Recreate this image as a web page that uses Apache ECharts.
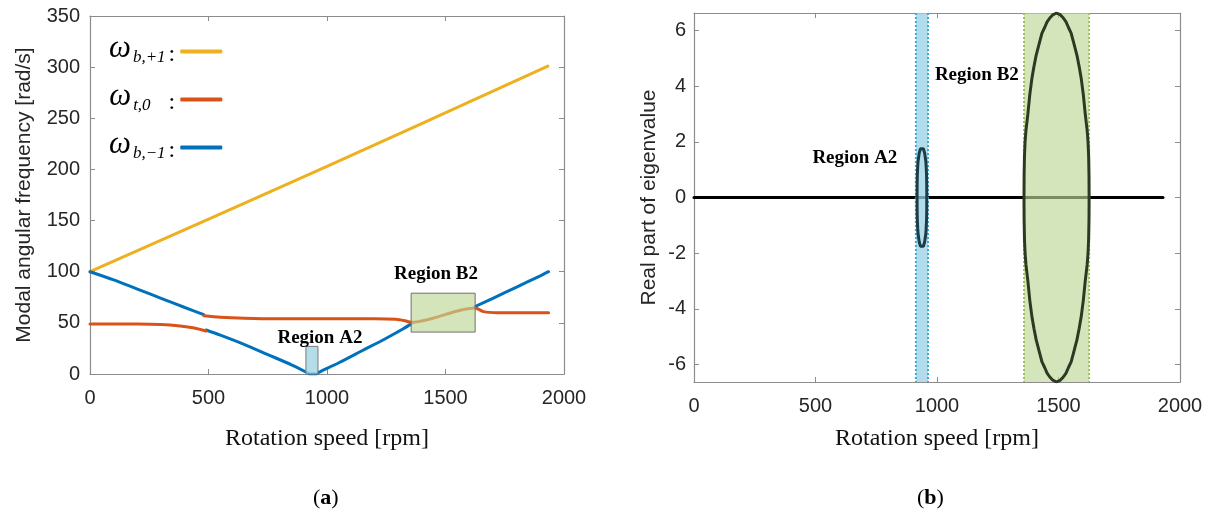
<!DOCTYPE html>
<html>
<head>
<meta charset="utf-8">
<script src="https://cdn.jsdelivr.net/npm/echarts@6/dist/echarts.min.js"></script>
<style>
html, body { margin: 0; background: #fff; }
#main { width: 1214px; height: 518px; }
</style>
</head>
<body>
<div id="main"></div>
<script>
var myChart = echarts.init(document.getElementById('main'));

// ---- (a) modal angular frequency [rad/s] vs rotation speed [rpm]
var yellowLine = [[0, 100], [1000, 203], [1932, 301]];
var blueSeg1 = [[0, 100], [100, 92], [200, 83], [300, 74], [400, 65], [480, 58]];
var blueSeg2 = [[490, 43], [550, 38], [650, 29], [750, 19], [850, 9], [915, 1.5], [925, 0],
    [955, 0], [965, 1.5], [1050, 11], [1150, 23], [1250, 35], [1320, 44], [1355, 49]];
var blueSeg3 = [[1625, 66], [1700, 74], [1800, 85], [1900, 96], [1935, 100]];
var orangeSeg1 = [[0, 49], [200, 49], [300, 48.5], [380, 47], [440, 45], [490, 42]];
var orangeSeg2 = [[480, 57], [550, 55.5], [650, 54.5], [800, 54], [1000, 54], [1200, 54],
    [1290, 53.5], [1330, 52], [1355, 50.5], [1625, 64.5], [1660, 61], [1720, 60], [1935, 60]];
// regions: [xFrom, xTo, yFrom, yTo]
var regionA2Left = [[911, 962, 0, 27]];
var regionB2Left = [[1355, 1625, 41, 79]];
var labelsLeft = [{name: 'Region A2', value: [970, 35]}, {name: 'Region B2', value: [1460, 98]}];

// ---- (b) real part of eigenvalue vs rotation speed [rpm]
var zeroLine = [[0, 0], [1930, 0]];
var regionA2Right = [[913, 963, -6.62, 6.62]];
var regionB2Right = [[1358, 1626, -6.62, 6.62]];
var loopA2 = [[918, 0], [918.3, 0.5], [919, 0.8], [920.5, 1.1], [922, 1.3], [927, 1.6], [932, 1.75],
    [938, 1.78], [944, 1.75], [949, 1.6], [954, 1.3], [955.5, 1.1], [957, 0.8], [957.7, 0.5],
    [958, 0], [957.7, -0.5], [957, -0.8], [955.5, -1.1], [954, -1.3], [949, -1.6], [944, -1.75],
    [938, -1.78], [932, -1.75], [927, -1.6], [922, -1.3], [920.5, -1.1], [919, -0.8],
    [918.3, -0.5], [918, 0]];
var loopB2 = [[1358, 0], [1358.5, 0.8], [1360, 1.5], [1362.5, 2.0], [1366, 2.4], [1374, 3.0],
    [1382, 3.7], [1391, 4.3], [1399, 4.7], [1408, 5.1], [1420, 5.5], [1432, 5.9], [1443, 6.1],
    [1453, 6.3], [1465, 6.45], [1476, 6.55], [1492, 6.62], [1508, 6.55], [1519, 6.45],
    [1531, 6.3], [1541, 6.1], [1552, 5.9], [1564, 5.5], [1576, 5.1], [1585, 4.7], [1593, 4.3],
    [1602, 3.7], [1610, 3.0], [1618, 2.4], [1621.5, 2.0], [1624, 1.5], [1625.5, 0.8], [1626, 0],
    [1625.5, -0.8], [1624, -1.5], [1621.5, -2.0], [1618, -2.4], [1610, -3.0], [1602, -3.7],
    [1593, -4.3], [1585, -4.7], [1576, -5.1], [1564, -5.5], [1552, -5.9], [1541, -6.1],
    [1531, -6.3], [1519, -6.45], [1508, -6.55], [1492, -6.62], [1476, -6.55], [1465, -6.45],
    [1453, -6.3], [1443, -6.1], [1432, -5.9], [1420, -5.5], [1408, -5.1], [1399, -4.7],
    [1391, -4.3], [1382, -3.7], [1374, -3.0], [1366, -2.4], [1362.5, -2.0], [1360, -1.5],
    [1358.5, -0.8], [1358, 0]];
var labelsRight = [{name: 'Region A2', value: [662, 1.4]}, {name: 'Region B2', value: [1164, 4.4]}];
var eigenTicks = [-6, -4, -2, 0, 2, 4, 6];

var nameY = 'ωb,+1', nameO = 'ωt,0', nameB = 'ωb,−1';
var legendText = {};
legendText[nameY] = '{w|ω}{s|b,+1}{c|:}';
legendText[nameO] = '{w|ω}{s0|t,0}{c|:}';
legendText[nameB] = '{w|ω}{s|b,−1}{c|:}';

var sans = 'Liberation Sans';
var serif = 'Liberation Serif';
var axisGray = '#8c8c8c';
var labelColor = '#262626';

function boxAxis(grid, pos, min, max, interval, showLabel, name, nameFont, nameGap) {
    var a = {
        type: 'value', gridIndex: grid, position: pos, min: min, max: max,
        axisLine: {show: true, onZero: false, lineStyle: {color: axisGray, width: 1.2}},
        axisTick: {show: true, inside: true, length: 5, lineStyle: {color: axisGray}},
        axisLabel: {
            show: showLabel, color: labelColor, fontFamily: sans, fontSize: 20, margin: 10,
            formatter: function (v) { return String(v); }
        },
        splitLine: {show: false}
    };
    if (interval) a.interval = interval;
    if (name) {
        a.name = name;
        a.nameLocation = 'middle';
        a.nameGap = nameGap;
        a.nameTextStyle = nameFont;
    }
    return a;
}

var xNameFont = {fontFamily: serif, fontSize: 24, color: '#111'};
var yNameFont = {fontFamily: sans, fontSize: 21, color: labelColor};

var xAxes = [
    boxAxis(0, 'bottom', 0, 2000, 500, true, 'Rotation speed [rpm]', xNameFont, 53),
    boxAxis(0, 'top', 0, 2000, 500, false),
    boxAxis(1, 'bottom', 0, 2000, 500, true, 'Rotation speed [rpm]', xNameFont, 45),
    boxAxis(1, 'top', 0, 2000, 500, false)
];
xAxes[0].axisLabel.margin = 14;
xAxes[2].axisLabel.margin = 14;

var yAxes = [
    boxAxis(0, 'left', 0, 350, 50, true, 'Modal angular frequency [rad/s]', yNameFont, 55),
    boxAxis(0, 'right', 0, 350, 50, false),
    boxAxis(1, 'left', -6.62, 6.62, null, true, 'Real part of eigenvalue', yNameFont, 34),
    boxAxis(1, 'right', -6.62, 6.62, null, false)
];
[2, 3].forEach(function (i) {
    yAxes[i].axisTick.customValues = eigenTicks;
    yAxes[i].axisLabel.customValues = eigenTicks;
});
yAxes[2].axisLabel.margin = 8;

function regionRender(fill, stroke, dotted) {
    return function (params, api) {
        var p0 = api.coord([api.value(0), api.value(3)]);
        var p1 = api.coord([api.value(1), api.value(2)]);
        var children = [{
            type: 'rect',
            shape: {x: p0[0], y: p0[1], width: p1[0] - p0[0], height: p1[1] - p0[1]},
            style: {fill: fill, stroke: dotted ? null : stroke, lineWidth: 1}
        }];
        if (dotted) {
            [p0[0], p1[0]].forEach(function (px) {
                children.push({
                    type: 'line',
                    shape: {x1: px, y1: p0[1], x2: px, y2: p1[1]},
                    style: {stroke: stroke, lineWidth: 2, lineDash: [2, 2]}
                });
            });
        }
        return {type: 'group', children: children};
    };
}

function lineSeries(name, data, color, xi, yi, width, z, smooth) {
    return {
        name: name, type: 'line', data: data, xAxisIndex: xi, yAxisIndex: yi,
        showSymbol: false, symbol: 'none', smooth: smooth === undefined ? 0.3 : smooth, z: z || 2,
        lineStyle: {color: color, width: width || 3, cap: 'round'},
        itemStyle: {color: color},
        animation: false
    };
}

function labelSeries(data, xi, yi) {
    return {
        type: 'scatter', data: data, xAxisIndex: xi, yAxisIndex: yi, symbolSize: 0, z: 6,
        itemStyle: {opacity: 1},
        label: {
            show: true, position: 'inside', formatter: '{b}',
            fontFamily: serif, fontWeight: 'bold', fontSize: 19, color: '#000'
        },
        silent: true
    };
}

var yellow = '#EDB120', orange = '#D95319', blue = '#0072BD';

option = {
    backgroundColor: '#fff',
    animation: false,
    grid: [
        {left: 90, right: 650, top: 16, bottom: 144},
        {left: 694, right: 34, top: 13, bottom: 136}
    ],
    xAxis: xAxes,
    yAxis: yAxes,
    legend: {
        data: [nameY, nameO, nameB],
        orient: 'vertical',
        left: 104, top: 28,
        align: 'right',
        icon: 'roundRect',
        itemWidth: 42, itemHeight: 4,
        itemGap: 11,
        formatter: function (n) { return legendText[n]; },
        textStyle: {
            rich: {
                w: {fontFamily: serif, fontStyle: 'italic', fontSize: 31, color: '#000',
                    lineHeight: 31, verticalAlign: 'middle', padding: [0, 0, 6, 0]},
                s: {fontFamily: serif, fontStyle: 'italic', fontSize: 17, color: '#000',
                    lineHeight: 17, verticalAlign: 'middle', padding: [12, 0, 0, 2]},
                s0: {fontFamily: serif, fontStyle: 'italic', fontSize: 17, color: '#000',
                    lineHeight: 17, verticalAlign: 'middle', padding: [12, 15, 0, 2]},
                c: {fontFamily: serif, fontSize: 24, color: '#000',
                    lineHeight: 24, verticalAlign: 'middle', padding: [7, 0, 0, 3]}
            }
        }
    },
    graphic: [
        {type: 'text', left: 313, top: 487, style: {text: '({a|a})', fontFamily: serif, fontSize: 22, fill: '#000',
            rich: {a: {fontFamily: serif, fontSize: 22, fontWeight: 'bold'}}}},
        {type: 'text', left: 917, top: 487, style: {text: '({a|b})', fontFamily: serif, fontSize: 22, fill: '#000',
            rich: {a: {fontFamily: serif, fontSize: 22, fontWeight: 'bold'}}}}
    ],
    series: [
        lineSeries(nameY, yellowLine, yellow, 0, 0),
        lineSeries(nameB, blueSeg1, blue, 0, 0),
        lineSeries(nameB, blueSeg2, blue, 0, 0),
        lineSeries(nameB, blueSeg3, blue, 0, 0),
        lineSeries(nameO, orangeSeg1, orange, 0, 0),
        lineSeries(nameO, orangeSeg2, orange, 0, 0),
        {
            type: 'custom', xAxisIndex: 0, yAxisIndex: 0, z: 4, silent: true,
            renderItem: regionRender('rgba(160,212,228,0.8)', '#7a7a7a', false),
            data: regionA2Left
        },
        {
            type: 'custom', xAxisIndex: 0, yAxisIndex: 0, z: 4, silent: true,
            renderItem: regionRender('rgba(190,215,150,0.65)', '#6e6e6e', false),
            data: regionB2Left
        },
        labelSeries(labelsLeft, 0, 0),

        lineSeries('zero', zeroLine, '#000', 2, 2, 3, 2, false),
        {
            type: 'custom', xAxisIndex: 2, yAxisIndex: 2, z: 4, silent: true,
            renderItem: regionRender('rgba(150,208,228,0.75)', '#3aa9d6', true),
            data: regionA2Right
        },
        {
            type: 'custom', xAxisIndex: 2, yAxisIndex: 2, z: 4, silent: true,
            renderItem: regionRender('rgba(190,215,150,0.65)', '#9cc25a', true),
            data: regionB2Right
        },
        lineSeries('loopA2', loopA2, '#1d3c48', 2, 2, 3, 5, false),
        lineSeries('loopB2', loopB2, '#2b3a20', 2, 2, 3, 5, false),
        labelSeries(labelsRight, 2, 2)
    ]
};

myChart.setOption(option);
</script>
</body>
</html>
